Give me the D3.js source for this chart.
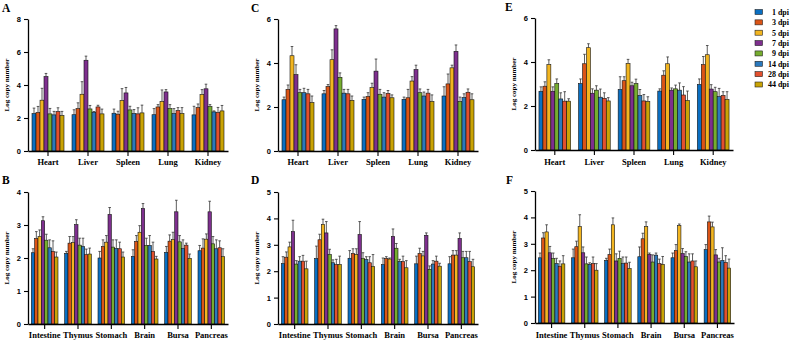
<!DOCTYPE html>
<html>
<head>
<meta charset="utf-8">
<script src="https://cdn.jsdelivr.net/npm/d3@7"></script>
<style>
  body { margin: 0; background: #fff; }
  svg { display: block; font-family: "Liberation Serif", "Times New Roman", serif; font-weight: bold; }
</style>
</head>
<body>
<svg id="fig" width="791" height="340"></svg>
<script>
const organsTop = ["Heart", "Liver", "Spleen", "Lung", "Kidney"]
const organsBottom = ["Intestine", "Thymus", "Stomach", "Brain", "Bursa", "Pancreas"]
const dpi = ["1 dpi", "3 dpi", "5 dpi", "7 dpi", "9 dpi", "14 dpi", "28 dpi", "44 dpi"]
const colors = ["#0a6fc2", "#db5416", "#f2b520", "#7e2f8e", "#76ad2f", "#2b79bd", "#e3502e", "#c9a305"]

// one row per organ, one value per dpi
const meanA = [
    [2.27, 2.33, 3.08, 4.51, 2.25, 2.19, 2.39, 2.15],
    [2.20, 2.57, 3.44, 5.50, 2.55, 2.35, 2.67, 2.25],
    [2.29, 2.23, 3.05, 3.52, 2.49, 2.27, 2.25, 2.31],
    [2.20, 2.67, 3.00, 3.58, 2.57, 2.27, 2.45, 2.27],
    [2.19, 2.63, 3.42, 3.77, 2.69, 2.37, 2.33, 2.43]
]
const errA = [
    [0.33, 0.37, 0.72, 0.19, 0.33, 0.21, 0.23, 0.25],
    [0.30, 0.35, 0.76, 0.25, 0.21, 0.04, 0.10, 0.29],
    [0.25, 0.18, 0.73, 0.33, 0.22, 0.24, 0.37, 0.47],
    [0.37, 0.14, 0.70, 0.14, 0.24, 0.30, 0.18, 0.36],
    [0.52, 0.22, 0.30, 0.28, 0.12, 0.06, 0.31, 0.33]
]
const meanC = [
    [2.33, 2.80, 4.33, 3.47, 2.65, 2.65, 2.60, 2.20],
    [2.60, 2.93, 4.15, 5.55, 3.35, 2.63, 2.60, 2.30],
    [2.35, 2.48, 2.88, 3.63, 2.58, 2.45, 2.62, 2.42],
    [2.35, 2.42, 3.18, 3.70, 2.65, 2.50, 2.63, 2.25],
    [2.50, 3.05, 3.78, 4.53, 2.25, 2.43, 2.67, 2.33]
]
const errC = [
    [0.12, 0.20, 0.42, 0.45, 0.15, 0.20, 0.20, 0.30],
    [0.15, 0.09, 0.45, 0.15, 0.20, 0.17, 0.20, 0.20],
    [0.10, 0.17, 0.20, 0.55, 0.22, 0.20, 0.13, 0.13],
    [0.10, 0.38, 0.20, 0.20, 0.17, 0.18, 0.17, 0.30],
    [0.42, 0.45, 0.12, 0.29, 0.20, 0.17, 0.15, 0.27]
]
const meanE = [
    [2.67, 2.90, 3.88, 2.67, 3.02, 2.32, 2.22, 2.22],
    [3.02, 3.92, 4.65, 2.58, 2.72, 2.40, 2.35, 2.23],
    [2.75, 3.15, 3.93, 2.92, 3.02, 2.48, 2.23, 2.20],
    [2.68, 3.40, 3.92, 2.72, 2.78, 2.72, 2.50, 2.25],
    [2.98, 3.88, 4.33, 2.77, 2.65, 2.43, 2.48, 2.30]
]
const errE = [
    [0.20, 0.20, 0.22, 0.20, 0.21, 0.28, 0.43, 0.11],
    [0.21, 0.43, 0.18, 0.20, 0.20, 0.37, 0.25, 0.15],
    [0.58, 0.18, 0.19, 0.16, 0.20, 0.27, 0.29, 0.22],
    [0.10, 0.20, 0.31, 0.10, 0.17, 0.33, 0.38, 0.43],
    [0.25, 0.37, 0.42, 0.20, 0.20, 0.37, 0.17, 0.35]
]
const meanB = [
    [2.16, 2.59, 2.65, 3.13, 2.54, 2.31, 2.20, 2.03],
    [2.14, 2.45, 2.47, 3.01, 2.39, 2.35, 2.10, 2.12],
    [2.00, 2.35, 2.48, 3.32, 2.33, 2.29, 2.28, 2.03],
    [2.05, 2.50, 2.78, 3.50, 2.38, 2.38, 2.20, 1.97],
    [2.17, 2.51, 2.56, 3.40, 2.49, 2.29, 2.39, 1.99],
    [2.22, 2.30, 2.57, 3.40, 2.43, 2.28, 2.31, 2.04]
]
const errB = [
    [0.12, 0.21, 0.20, 0.12, 0.18, 0.24, 0.32, 0.15],
    [0.06, 0.20, 0.18, 0.15, 0.21, 0.25, 0.17, 0.18],
    [0.20, 0.20, 0.20, 0.21, 0.22, 0.26, 0.20, 0.15],
    [0.20, 0.18, 0.20, 0.15, 0.22, 0.30, 0.28, 0.08],
    [0.18, 0.19, 0.22, 0.35, 0.19, 0.26, 0.06, 0.13],
    [0.16, 0.28, 0.16, 0.32, 0.22, 0.27, 0.21, 0.24]
]
const meanD = [
    [2.29, 2.53, 2.92, 3.50, 2.27, 2.38, 2.38, 2.09],
    [2.48, 3.19, 3.77, 3.45, 2.63, 2.32, 2.25, 2.25],
    [2.49, 2.67, 2.64, 3.39, 2.48, 2.44, 2.32, 2.18],
    [2.25, 2.48, 2.46, 3.32, 2.87, 2.36, 2.36, 2.13],
    [2.28, 2.67, 2.58, 3.36, 2.07, 2.27, 2.38, 2.19],
    [2.28, 2.61, 2.61, 3.24, 2.51, 2.51, 2.36, 2.17]
]
const errD = [
    [0.26, 0.20, 0.18, 0.43, 0.13, 0.17, 0.22, 0.29],
    [0.47, 0.21, 0.20, 0.43, 0.20, 0.11, 0.20, 0.32],
    [0.29, 0.18, 0.21, 0.49, 0.22, 0.11, 0.23, 0.45],
    [0.25, 0.07, 0.04, 0.28, 0.18, 0.09, 0.21, 0.27],
    [0.29, 0.20, 0.17, 0.09, 0.13, 0.13, 0.19, 0.11],
    [0.27, 0.17, 0.17, 0.21, 0.24, 0.24, 0.39, 0.28]
]
const meanF = [
    [2.47, 3.22, 3.45, 2.66, 2.44, 2.25, 2.15, 2.24],
    [2.47, 2.89, 3.65, 2.66, 2.24, 2.22, 2.25, 2.00],
    [2.37, 2.59, 3.72, 2.35, 2.45, 2.25, 2.27, 2.06],
    [2.51, 3.19, 3.65, 2.60, 2.31, 2.57, 2.25, 2.22],
    [2.47, 2.74, 3.69, 2.63, 2.52, 2.31, 2.35, 2.13],
    [2.78, 3.83, 3.64, 2.58, 2.31, 2.37, 2.29, 2.08]
]
const errF = [
    [0.18, 0.20, 0.27, 0.24, 0.21, 0.20, 0.20, 0.31],
    [0.33, 0.21, 0.45, 0.22, 0.26, 0.06, 0.25, 0.25],
    [0.08, 0.21, 0.26, 0.27, 0.27, 0.25, 0.23, 0.24],
    [0.37, 0.21, 0.18, 0.05, 0.27, 0.08, 0.17, 0.30],
    [0.18, 0.23, 0.06, 0.19, 0.18, 0.31, 0.27, 0.22],
    [0.19, 0.22, 0.18, 0.20, 0.14, 0.48, 0.26, 0.34]
]

const panels = [
    { tag: "A", cats: organsTop, mean: meanA, err: errA, max: 8, step: 2, x0: 28, x1: 228, top: 19, bottom: 151, tagX: 2, tagY: 12, titleX: 6, catY: 165 },
    { tag: "C", cats: organsTop, mean: meanC, err: errC, max: 6, step: 2, x0: 278, x1: 478, top: 19, bottom: 151, tagX: 251, tagY: 12, titleX: 256, catY: 165 },
    { tag: "E", cats: organsTop, mean: meanE, err: errE, max: 6, step: 2, x0: 535, x1: 733, top: 18, bottom: 150, tagX: 505, tagY: 11, titleX: 513, catY: 165 },
    { tag: "B", cats: organsBottom, mean: meanB, err: errB, max: 4, step: 1, x0: 28, x1: 228, top: 192, bottom: 324, tagX: 2, tagY: 184, titleX: 6, catY: 337.5 },
    { tag: "D", cats: organsBottom, mean: meanD, err: errD, max: 5, step: 1, x0: 278, x1: 478, top: 192, bottom: 324, tagX: 251, tagY: 184, titleX: 256, catY: 337.5 },
    { tag: "F", cats: organsBottom, mean: meanF, err: errF, max: 5, step: 1, x0: 535, x1: 734, top: 191, bottom: 323, tagX: 506, tagY: 184, titleX: 513, catY: 338 }
]

const svg = d3.select("#fig")

const drawPanel = (p) => {
    const g = svg.append("g")

    const x_scale = d3.scaleBand().domain(p.cats).range([p.x0, p.x1]).paddingInner(0.2).paddingOuter(0.1)
    const x_inner = d3.scaleBand().domain(dpi).range([0, x_scale.bandwidth()])
    const y_scale = d3.scaleLinear().domain([0, p.max]).range([p.bottom, p.top])

    const rows = []
    p.cats.forEach((c, i) => {
        dpi.forEach((s, j) => rows.push({ cat: c, serie: s, k: j, v: p.mean[i][j], e: p.err[i][j] }))
    })

    // error bars first so the bar outline sits on top
    const bx = d => x_scale(d.cat) + x_inner(d.serie) + x_inner.bandwidth() / 2
    g.selectAll("line.err").data(rows).join("line").attr("class", "err")
        .attr("x1", bx).attr("x2", bx)
        .attr("y1", d => y_scale(d.v)).attr("y2", d => y_scale(d.v + d.e))
        .attr("stroke", "#333").attr("stroke-width", 0.8)
    g.selectAll("line.cap").data(rows).join("line").attr("class", "cap")
        .attr("x1", d => bx(d) - 1.3).attr("x2", d => bx(d) + 1.3)
        .attr("y1", d => y_scale(d.v + d.e)).attr("y2", d => y_scale(d.v + d.e))
        .attr("stroke", "#333").attr("stroke-width", 0.8)

    g.selectAll("rect").data(rows).join("rect")
        .attr("x", d => x_scale(d.cat) + x_inner(d.serie))
        .attr("y", d => y_scale(d.v))
        .attr("width", x_inner.bandwidth())
        .attr("height", d => p.bottom - y_scale(d.v))
        .attr("fill", d => colors[d.k])
        .attr("stroke", "#111").attr("stroke-width", 0.6)

    const yAxis = g.append("g").attr("transform", `translate(${p.x0},0)`)
        .call(d3.axisLeft(y_scale).tickValues(d3.range(0, p.max + 0.01, p.step)).tickFormat(d3.format("d"))
            .tickSize(4).tickPadding(3).tickSizeOuter(0))
    yAxis.select(".domain").attr("stroke-width", 1.3)
    yAxis.selectAll(".tick line").attr("stroke-width", 1.1)
    yAxis.selectAll("text").attr("font-size", 7.5).attr("font-family", null)

    const xAxis = g.append("g").attr("transform", `translate(0,${p.bottom})`)
        .call(d3.axisBottom(x_scale).tickSize(5).tickSizeOuter(0).tickFormat(""))
    xAxis.select(".domain").attr("stroke-width", 1.3)
    xAxis.selectAll(".tick line").attr("stroke-width", 1.1)

    g.selectAll("text.cat").data(p.cats).join("text").attr("class", "cat")
        .attr("x", d => x_scale(d) + x_scale.bandwidth() / 2)
        .attr("y", p.catY)
        .attr("text-anchor", "middle").attr("font-size", 8.5)
        .text(d => d)

    g.append("text")
        .attr("transform", `translate(${p.titleX + 2.5},${(p.top + p.bottom) / 2}) rotate(-90)`)
        .attr("text-anchor", "middle").attr("font-size", 7)
        .text("Log copy number")

    g.append("text").attr("x", p.tagX).attr("y", p.tagY)
        .attr("font-size", 11.5).text(p.tag)
}

panels.forEach(drawPanel)

const legend = svg.append("g")
const ly = d3.scalePoint().domain(dpi).range([12, 84.5])
legend.selectAll("rect").data(dpi).join("rect")
    .attr("x", 755).attr("y", d => ly(d) - 2.5)
    .attr("width", 7.5).attr("height", 5)
    .attr("fill", (d, i) => colors[i]).attr("stroke", "#222").attr("stroke-width", 0.6)
legend.selectAll("text").data(dpi).join("text")
    .attr("x", 789).attr("y", d => ly(d) + 2.8)
    .attr("text-anchor", "end").attr("font-size", 8)
    .text(d => d)
</script>
</body>
</html>
